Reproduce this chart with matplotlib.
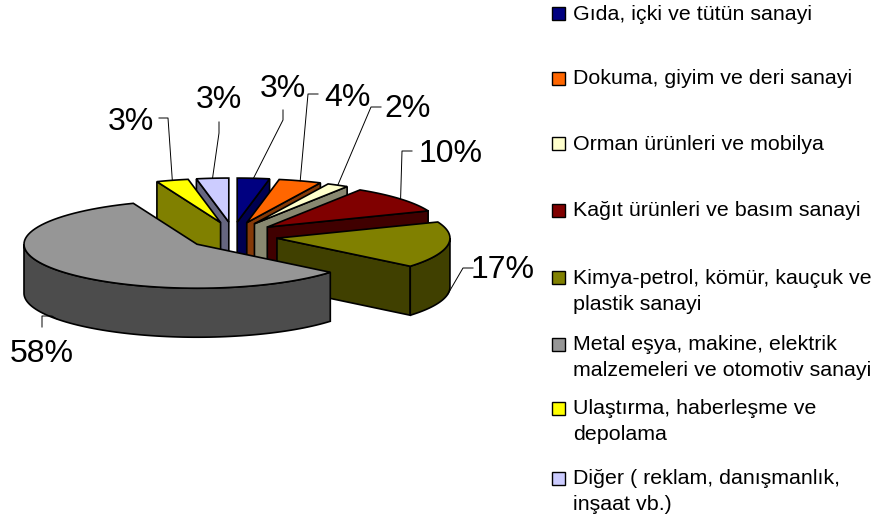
import numpy as np
import matplotlib
matplotlib.use('Agg')
import matplotlib.pyplot as plt
from matplotlib.patches import Polygon, Rectangle

plt.rcParams['font.family'] = ['Liberation Sans', 'DejaVu Sans']

# data
names = ['Gıda, içki ve tütün sanayi',
         'Dokuma, giyim ve deri sanayi',
         'Orman ürünleri ve mobilya',
         'Kağıt ürünleri ve basım sanayi',
         'Kimya-petrol, kömür, kauçuk ve\nplastik sanayi',
         'Metal eşya, makine, elektrik\nmalzemeleri ve otomotiv sanayi',
         'Ulaştırma, haberleşme ve\ndepolama',
         'Diğer ( reklam, danışmanlık,\ninşaat vb.)']
values = [3, 4, 2, 10, 17, 58, 3, 3]
top_colors = ['#000080', '#FF6600', '#FFFFCC', '#800000', '#808000', '#969696', '#FFFF00', '#CCCCFF']
wall_colors = ['#000050', '#853A08', '#888870', '#400000', '#404000', '#4C4C4C', '#808000', '#666680']

# layout, in pixels
W, H = 878, 519
cx, cy = 233, 236       # pie centre before exploding
rx, ry = 173, 44
ex, ey = 44.5, 14       # explosion
depth = 49
lw = 1.2

label_xy = [(283, 89), (347, 98), (408, 109), (451, 154), (503, 270), (42, 354), (131, 122), (219, 100)]
# leader line bends, from the slice outwards
leaders = [[(283, 120), (283, 110)],
           [(308, 94), (318, 94)],
           [(371, 107), (381, 107)],
           [(402, 151), (412, 151)],
           [(463, 268), (473, 268)],
           [(52, 316), (42, 316), (42, 327)],
           [(168, 118), (159, 118)],
           [(219, 133), (219, 122)]]
legend_y = [14, 79, 144, 211, 278, 345, 409, 479]
line_gap = 26

fig = plt.figure(figsize=(W / 100, H / 100), dpi=100)
ax = fig.add_axes([0, 0, 1, 1])
ax.set_xlim(0, W)
ax.set_ylim(H, 0)
ax.axis('off')

total = sum(values)
edges = np.cumsum([0] + values) / total * 2 * np.pi


def rim(x0, y0, t):
    return x0 + rx * np.sin(t), y0 - ry * np.cos(t)


# back slices first, the big one goes last
order = [7, 6, 0, 1, 2, 3, 4, 5]
for z, i in enumerate(order):
    a, b = edges[i], edges[i + 1]
    mid = (a + b) / 2
    x0 = cx + ex * np.sin(mid)
    y0 = cy - ey * np.cos(mid)
    t = np.linspace(a, b, 80)
    xs, ys = rim(x0, y0, t)

    # cut faces
    if np.sin(a) < 0:
        xa, ya = rim(x0, y0, a)
        ax.add_patch(Polygon([(x0, y0), (xa, ya), (xa, ya + depth), (x0, y0 + depth)],
                             fc=wall_colors[i], ec='black', lw=lw, zorder=z + 1))
    if np.sin(b) > 0:
        xb, yb = rim(x0, y0, b)
        ax.add_patch(Polygon([(x0, y0), (xb, yb), (xb, yb + depth), (x0, y0 + depth)],
                             fc=wall_colors[i], ec='black', lw=lw, zorder=z + 1))

    # outer wall, only the part facing the front
    lo, hi = max(a, np.pi / 2), min(b, 3 * np.pi / 2)
    if lo < hi:
        tw = np.linspace(lo, hi, 80)
        xw, yw = rim(x0, y0, tw)
        pts = list(zip(xw, yw)) + list(zip(xw[::-1], yw[::-1] + depth))
        ax.add_patch(Polygon(pts, fc=wall_colors[i], ec='black', lw=lw, zorder=z + 1))

    # top
    pts = [(x0, y0)] + list(zip(xs, ys))
    ax.add_patch(Polygon(pts, fc=top_colors[i], ec='black', lw=lw, zorder=z + 1))

    # leader and percent label
    px, py = rim(x0, y0, mid)
    if np.cos(mid) < 0:
        py += depth
    lx = [px] + [p[0] for p in leaders[i]]
    ly = [py] + [p[1] for p in leaders[i]]
    ax.plot(lx, ly, color='black', lw=0.7, zorder=20)
    ax.text(label_xy[i][0], label_xy[i][1], '%d%%' % values[i], fontsize=23,
            ha='center', va='center', color='black', zorder=21)

# legend
for i in range(len(names)):
    y = legend_y[i]
    ax.add_patch(Rectangle((552, y - 7.5), 13, 13, fc=top_colors[i], ec='black', lw=1.0))
    for k, line in enumerate(names[i].split('\n')):
        ax.text(573, y + k * line_gap, line, fontsize=15.4, ha='left', va='center', color='black')

plt.savefig('out.png', dpi=100)
